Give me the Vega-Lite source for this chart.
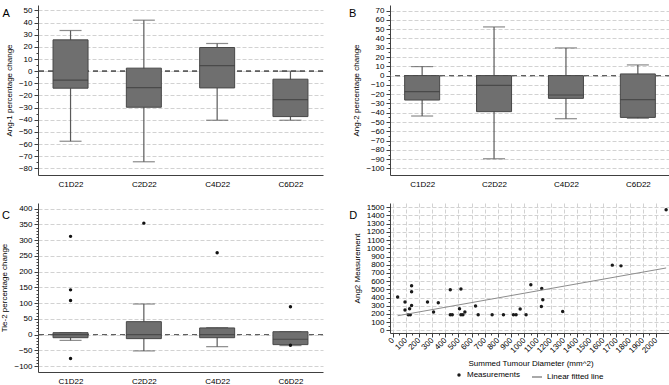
{
  "$schema": "https://vega.github.io/schema/vega-lite/v6.json",
  "background": "white",
  "padding": {"left": 0, "top": 5, "right": 0, "bottom": 0},
  "datasets": {
    "boxA": [
      {"visit": "C1D22", "min": -57.7, "q1": -14, "med": -7.4, "q3": 25.8, "max": 33.5},
      {"visit": "C2D22", "min": -74.6, "q1": -29.7, "med": -13.5, "q3": 2.5, "max": 42},
      {"visit": "C4D22", "min": -40.4, "q1": -13.8, "med": 4.6, "q3": 19.5, "max": 22.8},
      {"visit": "C6D22", "min": -40.4, "q1": -37.4, "med": -23.4, "q3": -6.6, "max": 0}
    ],
    "boxB": [
      {"visit": "C1D22", "min": -43.5, "q1": -26.3, "med": -17.2, "q3": 0, "max": 9.7},
      {"visit": "C2D22", "min": -89.5, "q1": -38.8, "med": -10.5, "q3": 0, "max": 52.4},
      {"visit": "C4D22", "min": -46.4, "q1": -24.5, "med": -20.9, "q3": 0, "max": 29.8},
      {"visit": "C6D22", "min": -46, "q1": -45, "med": -25.9, "q3": 1.8, "max": 11.5}
    ],
    "boxC": [
      {"visit": "C1D22", "min": -18.5, "q1": -10, "med": 0, "q3": 6, "max": 6},
      {"visit": "C2D22", "min": -52, "q1": -13, "med": 0, "q3": 41, "max": 97},
      {"visit": "C4D22", "min": -38.5, "q1": -10, "med": 0, "q3": 21, "max": 22},
      {"visit": "C6D22", "min": -35, "q1": -32, "med": -15, "q3": 9, "max": 9}
    ],
    "outC": [
      {"visit": "C1D22", "value": 312},
      {"visit": "C1D22", "value": 142},
      {"visit": "C1D22", "value": 108},
      {"visit": "C1D22", "value": -76},
      {"visit": "C2D22", "value": 354},
      {"visit": "C4D22", "value": 260},
      {"visit": "C6D22", "value": 88},
      {"visit": "C6D22", "value": -34}
    ],
    "scatter": [
      {"diam": 38, "ang2": 406}, {"diam": 94, "ang2": 345}, {"diam": 94, "ang2": 248},
      {"diam": 119, "ang2": 191}, {"diam": 134, "ang2": 191}, {"diam": 129, "ang2": 264},
      {"diam": 144, "ang2": 304}, {"diam": 144, "ang2": 470}, {"diam": 144, "ang2": 543},
      {"diam": 265, "ang2": 345}, {"diam": 311, "ang2": 224}, {"diam": 347, "ang2": 337},
      {"diam": 438, "ang2": 495}, {"diam": 438, "ang2": 191}, {"diam": 453, "ang2": 191},
      {"diam": 508, "ang2": 264}, {"diam": 519, "ang2": 503}, {"diam": 519, "ang2": 191},
      {"diam": 534, "ang2": 191}, {"diam": 549, "ang2": 224}, {"diam": 630, "ang2": 297},
      {"diam": 650, "ang2": 191}, {"diam": 756, "ang2": 191}, {"diam": 842, "ang2": 191},
      {"diam": 918, "ang2": 191}, {"diam": 938, "ang2": 191}, {"diam": 969, "ang2": 260},
      {"diam": 1014, "ang2": 191}, {"diam": 1050, "ang2": 555}, {"diam": 1133, "ang2": 510},
      {"diam": 1141, "ang2": 373}, {"diam": 1130, "ang2": 292}, {"diam": 1292, "ang2": 231},
      {"diam": 1669, "ang2": 795}, {"diam": 1735, "ang2": 786}, {"diam": 2078, "ang2": 1471}
    ]
  },
  "columns": 2,
  "spacing": {"row": 28, "column": 67},
  "bounds": "flush",
  "concat": [
    {
      "width": 285, "height": 170,
      "title": {"text": "A", "anchor": "start", "frame": "bounds", "dx": -3, "dy": 17.5},
      "data": {"name": "boxA"},
      "layer": [
        {"mark": {"type": "rule", "color": "#606060", "strokeDash": [5, 4], "strokeWidth": 1}, "encoding": {"y": {"datum": 0, "type": "quantitative"}}},
        {"mark": {"type": "rule", "color": "#5a5a5a", "strokeWidth": 1.2},
          "encoding": {
            "x": {"field": "visit", "type": "nominal", "sort": null, "scale": {"type": "point", "padding": 0.444}, "axis": {"title": null, "labelAngle": 0, "ticks": false, "labelPadding": 5}},
            "y": {"field": "min", "type": "quantitative", "scale": {"domain": [-85.5, 54.5], "nice": false, "zero": false},
              "axis": {"title": "Ang-1 percentage change", "grid": true, "labelOverlap": false, "tickCount": 500, "format": "d",
                "values": [-80,-75,-70,-65,-60,-55,-50,-45,-40,-35,-30,-25,-20,-15,-10,-5,0,5,10,15,20,25,30,35,40,45,50],
                "labelExpr": "datum.value % 10 === 0 ? datum.label : ''",
                "tickSize": {"condition": {"test": "datum.value % 10 !== 0", "value": 2}, "value": 4},
                "gridOpacity": {"condition": {"test": "datum.value % 10 !== 0", "value": 0}, "value": 1}}},
            "y2": {"field": "max"}}},
        {"mark": {"type": "tick", "color": "#5a5a5a", "size": 22, "thickness": 1.2}, "encoding": {"x": {"field": "visit", "type": "nominal", "sort": null}, "y": {"field": "min", "type": "quantitative"}}},
        {"mark": {"type": "tick", "color": "#5a5a5a", "size": 22, "thickness": 1.2}, "encoding": {"x": {"field": "visit", "type": "nominal", "sort": null}, "y": {"field": "max", "type": "quantitative"}}},
        {"mark": {"type": "bar", "size": 35, "fill": "#6f6f6f", "stroke": "#474747", "strokeWidth": 1}, "encoding": {"x": {"field": "visit", "type": "nominal", "sort": null}, "y": {"field": "q1", "type": "quantitative"}, "y2": {"field": "q3"}}},
        {"mark": {"type": "tick", "color": "#3a3a3a", "size": 35, "thickness": 1.2}, "encoding": {"x": {"field": "visit", "type": "nominal", "sort": null}, "y": {"field": "med", "type": "quantitative"}}}
      ]
    },
    {
      "width": 280, "height": 170,
      "title": {"text": "B", "anchor": "start", "frame": "bounds", "dx": -4, "dy": 17.5},
      "data": {"name": "boxB"},
      "layer": [
        {"mark": {"type": "rule", "color": "#606060", "strokeDash": [5, 4], "strokeWidth": 1}, "encoding": {"y": {"datum": 0, "type": "quantitative"}}},
        {"mark": {"type": "rule", "color": "#5a5a5a", "strokeWidth": 1.2},
          "encoding": {
            "x": {"field": "visit", "type": "nominal", "sort": null, "scale": {"type": "point", "padding": 0.447}, "axis": {"title": null, "labelAngle": 0, "ticks": false, "labelPadding": 5}},
            "y": {"field": "min", "type": "quantitative", "scale": {"domain": [-107, 76], "nice": false, "zero": false},
              "axis": {"title": "Ang-2 percentage change", "grid": true, "labelOverlap": false, "tickCount": 500, "format": "d",
                "values": [-100,-95,-90,-85,-80,-75,-70,-65,-60,-55,-50,-45,-40,-35,-30,-25,-20,-15,-10,-5,0,5,10,15,20,25,30,35,40,45,50,55,60,65,70],
                "labelExpr": "datum.value % 10 === 0 ? datum.label : ''",
                "tickSize": {"condition": {"test": "datum.value % 10 !== 0", "value": 2}, "value": 4},
                "gridOpacity": {"condition": {"test": "datum.value % 10 !== 0", "value": 0}, "value": 1}}},
            "y2": {"field": "max"}}},
        {"mark": {"type": "tick", "color": "#5a5a5a", "size": 22, "thickness": 1.2}, "encoding": {"x": {"field": "visit", "type": "nominal", "sort": null}, "y": {"field": "min", "type": "quantitative"}}},
        {"mark": {"type": "tick", "color": "#5a5a5a", "size": 22, "thickness": 1.2}, "encoding": {"x": {"field": "visit", "type": "nominal", "sort": null}, "y": {"field": "max", "type": "quantitative"}}},
        {"mark": {"type": "bar", "size": 35, "fill": "#6f6f6f", "stroke": "#474747", "strokeWidth": 1}, "encoding": {"x": {"field": "visit", "type": "nominal", "sort": null}, "y": {"field": "q1", "type": "quantitative"}, "y2": {"field": "q3"}}},
        {"mark": {"type": "tick", "color": "#3a3a3a", "size": 35, "thickness": 1.2}, "encoding": {"x": {"field": "visit", "type": "nominal", "sort": null}, "y": {"field": "med", "type": "quantitative"}}}
      ]
    },
    {
      "width": 285, "height": 169,
      "title": {"text": "C", "anchor": "start", "frame": "bounds", "dx": 1, "dy": 22},
      "data": {"name": "boxC"},
      "layer": [
        {"mark": {"type": "rule", "color": "#606060", "strokeDash": [5, 4], "strokeWidth": 1}, "encoding": {"y": {"datum": 0, "type": "quantitative"}}},
        {"mark": {"type": "rule", "color": "#5a5a5a", "strokeWidth": 1.2},
          "encoding": {
            "x": {"field": "visit", "type": "nominal", "sort": null, "scale": {"type": "point", "padding": 0.444}, "axis": {"title": null, "labelAngle": 0, "ticks": false, "labelPadding": 5}},
            "y": {"field": "min", "type": "quantitative", "scale": {"domain": [-119, 418], "nice": false, "zero": false},
              "axis": {"title": "Tie-2 percentage change", "grid": true, "labelOverlap": false, "tickCount": 500, "format": "d",
                "values": [-100,-90,-80,-70,-60,-50,-40,-30,-20,-10,0,10,20,30,40,50,60,70,80,90,100,110,120,130,140,150,160,170,180,190,200,210,220,230,240,250,260,270,280,290,300,310,320,330,340,350,360,370,380,390,400],
                "labelExpr": "datum.value % 50 === 0 ? datum.label : ''",
                "tickSize": {"condition": {"test": "datum.value % 50 !== 0", "value": 2}, "value": 4},
                "gridOpacity": {"condition": {"test": "datum.value % 50 !== 0", "value": 0}, "value": 1}}},
            "y2": {"field": "max"}}},
        {"mark": {"type": "tick", "color": "#5a5a5a", "size": 22, "thickness": 1.2}, "encoding": {"x": {"field": "visit", "type": "nominal", "sort": null}, "y": {"field": "min", "type": "quantitative"}}},
        {"mark": {"type": "tick", "color": "#5a5a5a", "size": 22, "thickness": 1.2}, "encoding": {"x": {"field": "visit", "type": "nominal", "sort": null}, "y": {"field": "max", "type": "quantitative"}}},
        {"mark": {"type": "bar", "size": 35, "fill": "#6f6f6f", "stroke": "#474747", "strokeWidth": 1}, "encoding": {"x": {"field": "visit", "type": "nominal", "sort": null}, "y": {"field": "q1", "type": "quantitative"}, "y2": {"field": "q3"}}},
        {"mark": {"type": "tick", "color": "#3a3a3a", "size": 35, "thickness": 1.2}, "encoding": {"x": {"field": "visit", "type": "nominal", "sort": null}, "y": {"field": "med", "type": "quantitative"}}},
        {"data": {"name": "outC"}, "mark": {"type": "point", "filled": true, "size": 12, "color": "#111111", "opacity": 1}, "encoding": {"x": {"field": "visit", "type": "nominal", "sort": null}, "y": {"field": "value", "type": "quantitative"}}}
      ]
    },
    {
      "width": 281, "height": 130,
      "title": {"text": "D", "anchor": "start", "frame": "bounds", "dx": -4, "dy": 22},
      "data": {"name": "scatter"},
      "encoding": {
        "x": {"field": "diam", "type": "quantitative", "scale": {"domain": [-20, 2115], "nice": false, "zero": false},
          "axis": {"title": "Summed Tumour Diameter (mm^2)", "grid": true, "labelAngle": -45, "labelAlign": "right", "labelBaseline": "middle", "labelOverlap": false, "tickCount": 500,
            "values": [0,50,100,150,200,250,300,350,400,450,500,550,600,650,700,750,800,850,900,950,1000,1050,1100,1150,1200,1250,1300,1350,1400,1450,1500,1550,1600,1650,1700,1750,1800,1850,1900,1950,2000],
            "labelExpr": "datum.value % 100 === 0 ? datum.label : ''",
            "format": "d",
            "tickSize": {"condition": {"test": "datum.value % 100 !== 0", "value": 2}, "value": 4},
            "gridOpacity": {"condition": {"test": "datum.value % 100 !== 0", "value": 0}, "value": 1}}},
        "y": {"field": "ang2", "type": "quantitative", "scale": {"domain": [-32, 1552], "nice": false, "zero": false},
          "axis": {"title": "Ang2 Measurement", "grid": true, "labelOverlap": false, "tickCount": 500,
            "values": [0,50,100,150,200,250,300,350,400,450,500,550,600,650,700,750,800,850,900,950,1000,1050,1100,1150,1200,1250,1300,1350,1400,1450,1500],
            "labelExpr": "datum.value % 100 === 0 ? datum.label : ''",
            "format": "d",
            "tickSize": {"condition": {"test": "datum.value % 100 !== 0", "value": 2}, "value": 4},
            "gridOpacity": {"condition": {"test": "datum.value % 100 !== 0", "value": 0}, "value": 1}}}
      },
      "layer": [
        {"mark": {"type": "point", "filled": true, "size": 12, "opacity": 1},
          "encoding": {
            "color": {"datum": "Measurements", "scale": {"range": ["#1a1a1a"]},
              "legend": {"orient": "none", "legendX": 65, "legendY": 168, "title": null, "symbolType": "circle", "symbolSize": 12}}
          }},
        {"transform": [{"regression": "ang2", "on": "diam"}],
          "mark": {"type": "line", "strokeWidth": 1},
          "encoding": {
            "color": {"datum": "Linear fitted line", "scale": {"range": ["#8c8c8c"]},
              "legend": {"orient": "none", "legendX": 141, "legendY": 168, "title": null, "symbolType": "stroke", "symbolSize": 100, "symbolStrokeWidth": 1.5}}
          }}
      ],
      "resolve": {"scale": {"color": "independent"}}
    }
  ],
  "config": {
    "font": "Liberation Sans",
    "view": {"stroke": null},
    "title": {"font": "Liberation Sans", "fontSize": 11, "fontWeight": "normal", "color": "#000000"},
    "axis": {"labelFont": "Liberation Sans", "titleFont": "Liberation Sans", "labelFontSize": 8, "titleFontSize": 8, "titleFontWeight": "normal",
      "labelColor": "#000000", "titleColor": "#000000", "domainColor": "#404040", "tickColor": "#404040",
      "gridColor": "#d2d2d2", "gridDash": [4, 2], "labelOverlap": false, "labelFlush": false, "titlePadding": 5, "labelPadding": 2},
    "legend": {"labelFont": "Liberation Sans", "labelFontSize": 8, "labelColor": "#000000"}
  }
}
